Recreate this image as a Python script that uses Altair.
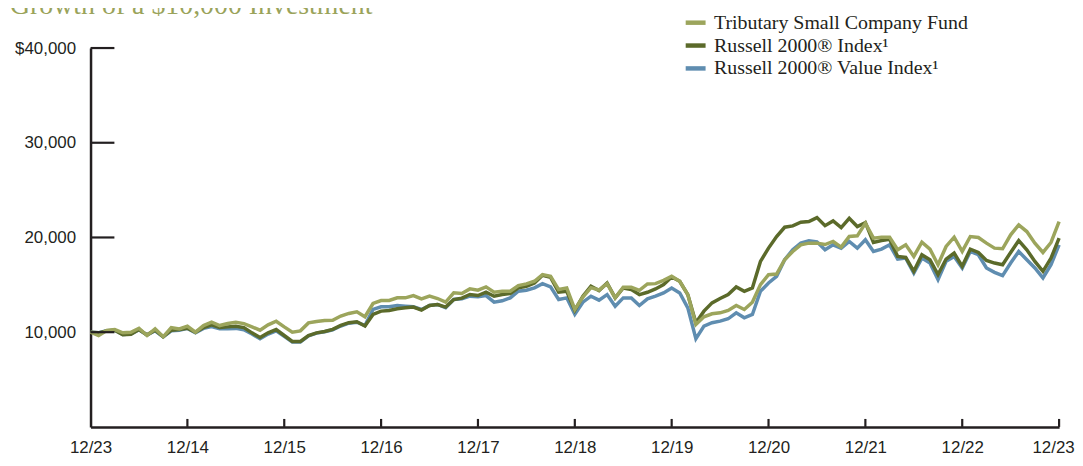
import altair as alt
import pandas as pd

# ---- data ----
months = list(range(121))

fund = [10000, 9650, 10175, 10280, 9930, 10000, 10420, 9650, 10350, 9510,
        10490, 10350, 10630, 10000, 10700, 11050, 10700, 10910, 11050, 10910,
        10560, 10210, 10770, 11155, 10560, 10000, 10140, 10980, 11120, 11225,
        11250, 11700, 11980, 12155, 11630, 13030, 13345, 13345, 13625, 13625,
        13870, 13520, 13800, 13555, 13170, 14150, 14080, 14570, 14430, 14780,
        14220, 14325, 14325, 14920, 15095, 15375, 16075, 15900, 14500, 14675,
        12400, 13700, 14700, 14450, 15125, 13620, 14740, 14740, 14425, 15090,
        15125, 15475, 15900, 15370, 13970, 10820, 11625, 11940, 12045, 12290,
        12815, 12395, 13165, 15020, 16070, 16140, 17650, 18525, 19225, 19400,
        19400, 19250, 19575, 18980, 20100, 20170, 21500, 19925, 20030, 20030,
        18700, 19225, 18000, 19505, 18770, 17125, 19050, 20030, 18525, 20100,
        19995, 19400, 18875, 18805, 20275, 21325, 20625, 19400, 18420, 19470,
        21675]

r2000 = [10000, 9930, 10140, 10210, 9720, 9790, 10280, 9720, 10210, 9510,
         10210, 10280, 10420, 10000, 10490, 10770, 10490, 10560, 10630, 10490,
         9930, 9440, 9930, 10280, 9650, 9020, 9020, 9650, 9930, 10070,
         10300, 10720, 11000, 11105, 10650, 11875, 12225, 12295, 12470, 12575,
         12645, 12330, 12820, 12925, 12645, 13450, 13590, 13975, 13870, 14220,
         13800, 13975, 14080, 14675, 14850, 15200, 16005, 15795, 14220, 14325,
         12300, 13800, 14845, 14390, 15195, 13620, 14670, 14495, 13970, 14215,
         14565, 15020, 15825, 15370, 13970, 10995, 12220, 13095, 13550, 13970,
         14775, 14320, 14670, 17475, 18875, 20100, 21080, 21220, 21605, 21675,
         22095, 21250, 21745, 21045, 22025, 21150, 21570, 19470, 19680, 19820,
         18000, 17895, 16425, 18175, 17650, 16075, 17720, 18350, 16950, 18770,
         18420, 17580, 17300, 17125, 18420, 19680, 18700, 17475, 16425, 17825,
         19925]

r2000v = [10000, 9950, 10150, 10200, 9750, 9800, 10250, 9700, 10150, 9500,
          10150, 10200, 10400, 9950, 10400, 10600, 10350, 10350, 10400, 10250,
          9800, 9300, 9800, 10150, 9550, 8950, 8950, 9600, 9900, 10050,
          10250, 10650, 10950, 11050, 10700, 12400, 12680, 12680, 12820, 12750,
          12680, 12400, 12820, 12925, 12575, 13450, 13520, 13800, 13730, 13870,
          13170, 13310, 13625, 14325, 14430, 14675, 15130, 14780, 13450, 13625,
          11900, 13170, 13800, 13380, 13970, 12745, 13620, 13620, 12815, 13515,
          13800, 14145, 14670, 14145, 12570, 9315, 10645, 10995, 11170, 11415,
          12045, 11520, 11870, 14320, 15195, 15895, 17650, 18700, 19400, 19645,
          19540, 18700, 19225, 18875, 19575, 18875, 19750, 18525, 18770, 19225,
          17720, 17825, 16250, 17825, 17300, 15550, 17475, 18000, 16775, 18525,
          18175, 16775, 16320, 15970, 17300, 18525, 17650, 16775, 15725, 17125,
          19225]

series_names = ["Tributary Small Company Fund",
                "Russell 2000® Index¹",
                "Russell 2000® Value Index¹"]
series_colors = ["#9ca55c", "#5b6a2a", "#5f8db0"]

x_tick_values = [0, 12, 24, 36, 48, 60, 72, 84, 96, 108, 120]
x_tick_labels = ["12/23", "12/14", "12/15", "12/16", "12/17", "12/18",
                 "12/19", "12/20", "12/21", "12/22", "12/23"]
y_tick_values = [10000, 20000, 30000, 40000]
y_tick_labels = ["10,000", "20,000", "30,000", "$40,000"]

title_text = "Growth of a $10,000 Investment"

# ---- table (drawn bottom-to-top: value, index, fund) ----
rows = []
for name, vals in [(series_names[2], r2000v), (series_names[1], r2000), (series_names[0], fund)]:
    for m, v in zip(months, vals):
        rows.append({"month": m, "value": v, "series": name})
df = pd.DataFrame(rows)

AX = "#231f20"
SANS = "Liberation Sans, Arial, sans-serif"
SERIF = "Liberation Serif, DejaVu Serif, serif"

x_label_expr = "[" + ",".join("'%s'" % s for s in x_tick_labels) + "][round(datum.value / 12)]"
y_label_expr = ("[" + ",".join("'%s'" % s for s in y_tick_labels) + "][indexof(["
                + ",".join(str(v) for v in y_tick_values) + "], datum.value)]")

x_scale = alt.Scale(domain=[0, 120], nice=False, zero=False)
y_scale = alt.Scale(domain=[0, 40000], nice=False)

x_axis = alt.Axis(values=x_tick_values, labelExpr=x_label_expr, title=None,
                  grid=False, ticks=False, tickSize=0, domainColor=AX,
                  domainWidth=2.5, labelFont=SANS, labelFontSize=17,
                  labelColor=AX, labelPadding=13, labelFlush=False,
                  labelOverlap=False,
                  labelOffset={"condition": {"test": "datum.value == %d" % x_tick_values[-1],
                                             "value": -6}, "value": 0})
y_axis = alt.Axis(values=y_tick_values, labelExpr=y_label_expr, title=None,
                  grid=False, ticks=False, tickSize=0, domainColor=AX,
                  domainWidth=2.5, labelFont=SANS, labelFontSize=17,
                  labelColor=AX, labelPadding=15, labelOverlap=False)

lines = alt.Chart(df).mark_line(strokeWidth=3.5, strokeJoin="miter").encode(
    x=alt.X("month:Q", scale=x_scale, axis=x_axis),
    y=alt.Y("value:Q", scale=y_scale, axis=y_axis),
    color=alt.Color("series:N",
                    scale=alt.Scale(domain=series_names, range=series_colors),
                    legend=alt.Legend(title=None, orient="none", legendX=596, legendY=-38,
                                      symbolType="stroke", symbolStrokeWidth=4.5,
                                      symbolSize=400, labelFont=SERIF, labelFontSize=20,
                                      labelColor=AX, rowPadding=0, labelOffset=6,
                                      padding=0, labelLimit=400)),
)

yticks = alt.Chart(pd.DataFrame({"value": y_tick_values})).mark_rule(
    color=AX, strokeWidth=2.2).encode(
    y=alt.Y("value:Q", scale=y_scale, axis=y_axis),
    x=alt.value(0), x2=alt.value(24))

xticks = alt.Chart(pd.DataFrame({"month": x_tick_values[1:]})).mark_rule(
    color=AX, strokeWidth=2.2).encode(
    x=alt.X("month:Q", scale=x_scale, axis=x_axis),
    y=alt.value(373), y2=alt.value(381))

title = alt.Chart(pd.DataFrame({"t": [title_text]})).mark_text(
    align="left", baseline="alphabetic", font=SERIF, fontSize=28,
    color="#9aa35a").encode(
    text="t:N", x=alt.value(-81), y=alt.value(-34))

chart = alt.layer(lines, yticks, xticks, title).properties(
    width=974, height=381,
    autosize=alt.AutoSizeParams(type="none"),
    padding={"left": 83, "top": 39, "right": 16, "bottom": 28},
).configure_view(stroke=None)

chart.save("out.html", embed_options={"renderer": "svg", "actions": False})
